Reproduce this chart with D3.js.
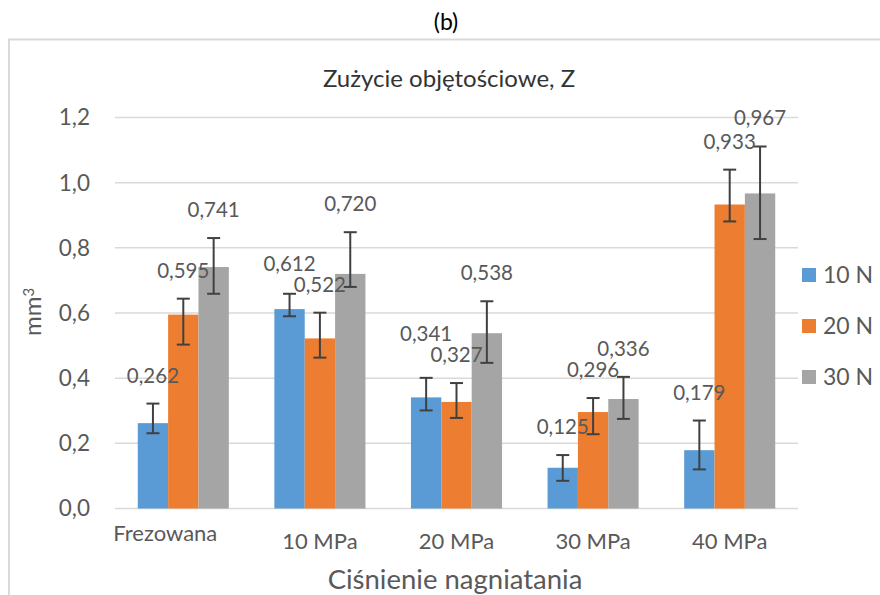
<!DOCTYPE html>
<meta charset="utf-8">
<script src="https://d3js.org/d3.v7.min.js"></script>
<style>
	body { margin: 0; background: #fff; }
	text { font-family: Lato, "Open Sans", sans-serif; }
</style>
<body>
<script>
var w = 880,
	h = 595,
	colors = ["#5b9bd5", "#ed7d31", "#a5a5a5"];

// data
var categories = ["Frezowana", "10 MPa", "20 MPa", "30 MPa", "40 MPa"];
var series = ["10 N", "20 N", "30 N"];
var values10 = [0.262, 0.612, 0.341, 0.125, 0.179];
var values20 = [0.595, 0.522, 0.327, 0.296, 0.933];
var values30 = [0.741, 0.720, 0.538, 0.336, 0.967];
// error bar ends (upper / lower)
var high10 = [0.322, 0.659, 0.401, 0.164, 0.270];
var low10 = [0.231, 0.590, 0.301, 0.085, 0.120];
var high20 = [0.644, 0.601, 0.385, 0.339, 1.040];
var low20 = [0.503, 0.463, 0.278, 0.228, 0.881];
var high30 = [0.830, 0.848, 0.636, 0.404, 1.111];
var low30 = [0.659, 0.680, 0.447, 0.275, 0.827];
var yTicks = [0, 0.2, 0.4, 0.6, 0.8, 1.0, 1.2];

var allValues = [values10, values20, values30],
	allHigh = [high10, high20, high30],
	allLow = [low10, low20, low30];

var data = [];
categories.forEach(function(c, i) {
	series.forEach(function(s, j) {
		data.push({cat: c, ser: s, idx: j, value: allValues[j][i], hi: allHigh[j][i], lo: allLow[j][i]});
	});
});

var pl = d3.formatLocale({decimal: ",", thousands: " ", grouping: [3], currency: ["", ""]});
var fmt3 = pl.format(".3f"), fmt1 = pl.format(".1f");

var plot = {left: 115, right: 798, top: 117.5, bottom: 508.5};

var svg = d3.select("body").append("svg")
	.attr("width", w)
	.attr("height", h);

// caption and frame
svg.append("text")
	.attr("x", 446).attr("y", 30)
	.attr("text-anchor", "middle")
	.style("font-size", "23px")
	.style("fill", "#000")
	.text("(b)");

svg.append("rect")
	.attr("x", 9).attr("y", 39.5)
	.attr("width", 900).attr("height", 600)
	.style("fill", "none")
	.style("stroke", "#d9d9d9")
	.style("stroke-width", 2);

var x0 = d3.scaleBand().domain(categories).range([plot.left, plot.right]);
var gap = x0.bandwidth() / 4.5 * 1.5;
var x1 = d3.scaleBand().domain(series).range([gap / 2, x0.bandwidth() - gap / 2]);
var y = d3.scaleLinear().domain([0, 1.2]).range([plot.bottom, plot.top]);
var color = d3.scaleOrdinal().domain(series).range(colors);

// gridlines + y tick labels
svg.selectAll(".grid")
	.data(yTicks)
	.enter()
	.append("line")
	.attr("class", "grid")
	.attr("x1", plot.left).attr("x2", plot.right)
	.attr("y1", function(d) { return y(d); })
	.attr("y2", function(d) { return y(d); })
	.style("stroke", "#d9d9d9")
	.style("stroke-width", 1.5);

svg.selectAll(".ytick")
	.data(yTicks)
	.enter()
	.append("text")
	.attr("class", "ytick")
	.attr("x", 90)
	.attr("y", function(d) { return y(d); })
	.attr("dy", "0.35em")
	.attr("text-anchor", "end")
	.style("font-size", "22.5px")
	.style("fill", "#595959")
	.text(function(d) { return fmt1(d); });

// bars
var g = svg.append("g");
g.selectAll("rect")
	.data(data)
	.enter()
	.append("rect")
	.attr("x", function(d) { return x0(d.cat) + x1(d.ser); })
	.attr("y", function(d) { return y(d.value); })
	.attr("width", x1.bandwidth())
	.attr("height", function(d) { return y(0) - y(d.value); })
	.style("fill", function(d) { return color(d.ser); });

// error bars
var cx = function(d) { return x0(d.cat) + x1(d.ser) + x1.bandwidth() / 2; };
var err = g.selectAll(".err")
	.data(data)
	.enter()
	.append("g")
	.attr("class", "err")
	.style("stroke", "#404040")
	.style("stroke-width", 2);
err.append("line")
	.attr("x1", cx).attr("x2", cx)
	.attr("y1", function(d) { return y(d.hi); })
	.attr("y2", function(d) { return y(d.lo); });
err.append("line")
	.attr("x1", function(d) { return cx(d) - 6.5; }).attr("x2", function(d) { return cx(d) + 6.5; })
	.attr("y1", function(d) { return y(d.hi); })
	.attr("y2", function(d) { return y(d.hi); });
err.append("line")
	.attr("x1", function(d) { return cx(d) - 6.5; }).attr("x2", function(d) { return cx(d) + 6.5; })
	.attr("y1", function(d) { return y(d.lo); })
	.attr("y2", function(d) { return y(d.lo); });

// value labels: above the upper cap, left neighbour pushed up if they collide
data.forEach(function(d) { d.ly = y(d.hi) - 21; });
categories.forEach(function(c) {
	var grp = data.filter(function(d) { return d.cat == c; });
	for (var j = 1; j < grp.length; j++) {
		for (var k = j - 1; k >= 0; k--) {
			if (Math.abs(grp[k].ly - grp[k + 1].ly) < 21) grp[k].ly = grp[k + 1].ly - 21;
		}
	}
});

g.selectAll(".vlabel")
	.data(data)
	.enter()
	.append("text")
	.attr("class", "vlabel")
	.attr("x", cx)
	.attr("y", function(d) { return d.ly; })
	.attr("text-anchor", "middle")
	.style("font-size", "20.5px")
	.style("fill", "#595959")
	.text(function(d) { return fmt3(d.value); });

// category labels
svg.selectAll(".xlabel")
	.data(categories)
	.enter()
	.append("text")
	.attr("class", "xlabel")
	.attr("x", function(d, i) { return x0(d) + x0.bandwidth() / 2 - (i == 0 ? 18 : 0); })
	.attr("y", function(d, i) { return i == 0 ? 541 : 549; })
	.attr("text-anchor", "middle")
	.style("font-size", "22px")
	.style("fill", "#595959")
	.text(function(d) { return d; });

// titles
svg.append("text")
	.attr("x", 449).attr("y", 87)
	.attr("text-anchor", "middle")
	.style("font-size", "24px")
	.style("fill", "#333")
	.text("Zużycie objętościowe, Z");

svg.append("text")
	.attr("x", 455).attr("y", 589)
	.attr("text-anchor", "middle")
	.style("font-size", "27.5px")
	.style("fill", "#595959")
	.text("Ciśnienie nagniatania");

var yl = svg.append("text")
	.attr("transform", "translate(41,312) rotate(-90)")
	.attr("text-anchor", "middle")
	.style("font-size", "24px")
	.style("fill", "#595959");
yl.append("tspan").text("mm");
yl.append("tspan").attr("dy", "-0.45em").style("font-size", "15px").text("3");

// legend
var legend = svg.selectAll(".legend")
	.data(series)
	.enter()
	.append("g")
	.attr("class", "legend")
	.attr("transform", function(d, i) { return "translate(802," + (275 + i * 51) + ")"; });
legend.append("rect")
	.attr("x", 0).attr("y", -7)
	.attr("width", 14).attr("height", 14)
	.style("fill", function(d) { return color(d); });
legend.append("text")
	.attr("x", 21).attr("y", 0)
	.attr("dy", "0.36em")
	.style("font-size", "23px")
	.style("fill", "#595959")
	.text(function(d) { return d; });
</script>
</body>
</html>
